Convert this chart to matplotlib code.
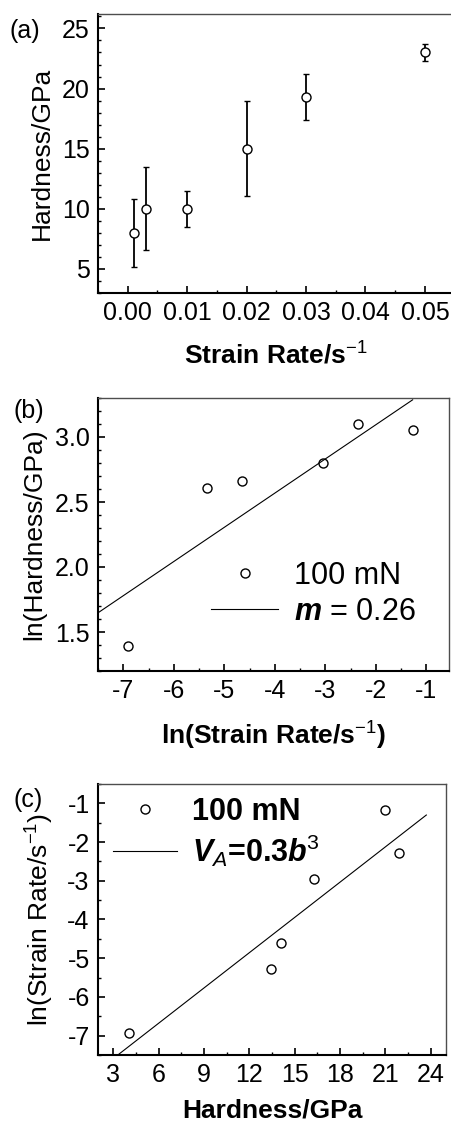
import numpy as np
import matplotlib
matplotlib.use("Agg")
import matplotlib.pyplot as plt
from matplotlib.ticker import MultipleLocator, FormatStrFormatter

plt.rcParams['font.family'] = ['Liberation Sans', 'DejaVu Sans']
plt.rcParams['axes.unicode_minus'] = False
plt.rcParams['mathtext.fontset'] = 'custom'
plt.rcParams['mathtext.rm'] = 'Liberation Sans'
plt.rcParams['mathtext.it'] = 'Liberation Sans:italic'
plt.rcParams['mathtext.bf'] = 'Liberation Sans:bold'
plt.rcParams['mathtext.bfit'] = 'Liberation Sans:italic:bold'

# (a) hardness vs strain rate
rate_a = [0.001, 0.003, 0.01, 0.02, 0.03, 0.05]
hard_a = [8.0, 10.0, 10.0, 15.0, 19.3, 23.0]
err_a = [2.8, 3.45, 1.5, 3.95, 1.95, 0.7]

# (b) ln(hardness) vs ln(strain rate)
ln_rate_b = [-6.91, -5.34, -4.64, -3.05, -2.36, -1.26]
ln_hard_b = [1.39, 2.61, 2.66, 2.80, 3.10, 3.055]
fit_b_x = [-7.5, -1.27]
fit_b_slope, fit_b_icpt = 0.263, 3.62

# (c) ln(strain rate) vs hardness
hard_c = [4.03, 13.42, 14.12, 16.27, 21.0, 21.92]
ln_rate_c = [-6.92, -5.29, -4.60, -2.96, -1.18, -2.28]
fit_c_x = [3.31, 23.7]
fit_c_slope, fit_c_icpt = 0.304, -8.506

W, H = 452, 1124
fig = plt.figure(figsize=(W / 100, H / 100), dpi=100)


def box(l, t, r, b):
    return [l / W, 1 - b / H, (r - l) / W, (b - t) / H]


def style(ax, xmaj, xmin, ymaj, ymin):
    ax.xaxis.set_major_locator(MultipleLocator(xmaj))
    ax.xaxis.set_minor_locator(MultipleLocator(xmin))
    ax.yaxis.set_major_locator(MultipleLocator(ymaj))
    ax.yaxis.set_minor_locator(MultipleLocator(ymin))
    ax.tick_params(which='major', direction='in', length=5, width=1.2, labelsize=18, pad=6)
    ax.tick_params(which='minor', direction='in', length=2.5, width=1)
    for s in ['left', 'bottom']:
        ax.spines[s].set_linewidth(1.5)
    for s in ['top', 'right']:
        ax.spines[s].set_linewidth(1)
        ax.spines[s].set_color('0.3')


# ---- (a)
ax = fig.add_axes(box(98, 14, 454, 293))
ax.errorbar(rate_a, hard_a, yerr=err_a, fmt='o', ms=6.5, mfc='white', mec='black',
            mew=1, ecolor='black', elinewidth=1.3, capsize=2, capthick=1.2)
ax.set_xlim(-0.005, 0.0549)
ax.set_ylim(3, 26.2)
style(ax, 0.01, 0.005, 5, 1)
ax.xaxis.set_major_formatter(FormatStrFormatter('%.2f'))
ax.set_ylabel('Hardness/GPa', fontsize=19, labelpad=6)
ax.set_xlabel('Strain Rate/s$^{-1}$', fontsize=19, fontweight='bold', labelpad=12)
fig.text(10 / W, 1 - 38 / H, '(a)', fontsize=18)

# ---- (b)
ax = fig.add_axes(box(98, 398, 449, 671))
ax.plot(ln_rate_b, ln_hard_b, 'o', ms=6.5, mfc='white', mec='black', mew=1,
        label='100 mN', ls='none')
xb = np.array(fit_b_x)
ax.plot(xb, fit_b_icpt + fit_b_slope * xb, color='black', lw=0.8,
        label=r'$\mathbfit{m}$ = 0.26')
ax.set_xlim(-7.5, -0.55)
ax.set_ylim(1.2, 3.3)
style(ax, 1, 0.5, 0.5, 0.1)
ax.yaxis.set_major_formatter(FormatStrFormatter('%.1f'))
ax.set_ylabel('ln(Hardness/GPa)', fontsize=19, labelpad=6)
ax.set_xlabel('ln(Strain Rate/s$^{-1}$)', fontsize=19, fontweight='bold', labelpad=12)
ax.legend(loc='center left', bbox_to_anchor=(211 / W, 1 - 594 / H),
          bbox_transform=fig.transFigure, frameon=False, fontsize=22,
          handlelength=2.2, handletextpad=0.5, labelspacing=0.2, borderpad=0,
          borderaxespad=0)
fig.text(14 / W, 1 - 418 / H, '(b)', fontsize=18)

# ---- (c)
ax = fig.add_axes(box(98, 784, 446, 1055))
ax.plot(hard_c, ln_rate_c, 'o', ms=6.5, mfc='white', mec='black', mew=1,
        label='100 mN', ls='none')
xc = np.array(fit_c_x)
ax.plot(xc, fit_c_icpt + fit_c_slope * xc, color='black', lw=0.8,
        label=r'$\mathbfit{V}_{\mathit{A}}$=0.3$\mathbfit{b}^{3}$')
ax.set_xlim(2, 25)
ax.set_ylim(-7.5, -0.5)
style(ax, 3, 1.5, 1, 0.5)
ax.set_ylabel('ln(Strain Rate/s$^{-1}$)', fontsize=19, labelpad=8)
ax.set_xlabel('Hardness/GPa', fontsize=19, fontweight='bold', labelpad=8)
ax.legend(loc='center left', bbox_to_anchor=(113 / W, 1 - 833 / H),
          bbox_transform=fig.transFigure, frameon=False,
          handlelength=2.1, handletextpad=0.5, labelspacing=0.2, borderpad=0,
          borderaxespad=0, prop={'weight': 'bold', 'size': 22})
fig.text(14 / W, 1 - 807 / H, '(c)', fontsize=18)

fig.savefig('out.png', dpi=100)
